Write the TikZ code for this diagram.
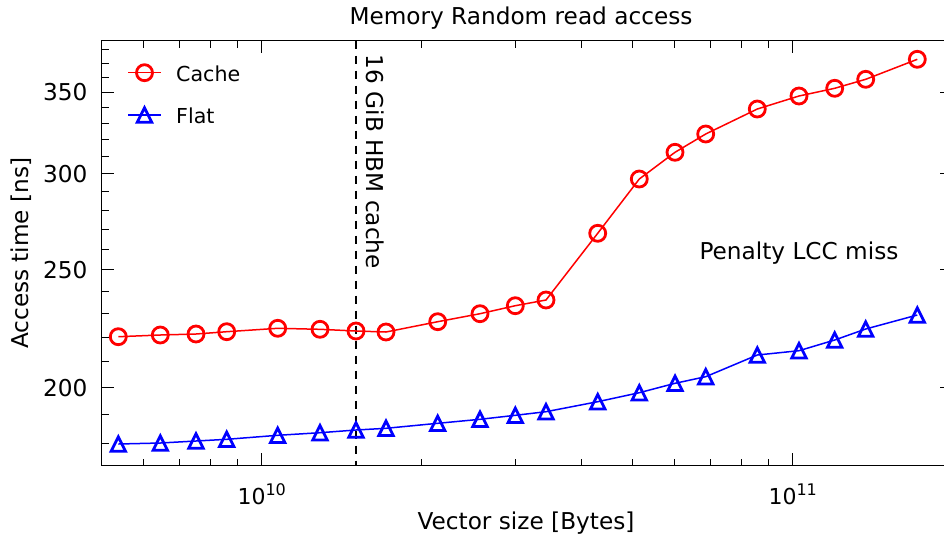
\documentclass[tikz,border=0pt]{standalone}
\usepackage{fontspec}
\setmainfont{DejaVu Sans}
\begin{document}
\begin{tikzpicture}[x=1pt,y=-1pt,
  axisline/.style={line width=1.2pt,black},
  tickline/.style={line width=1pt,black},
  lab/.style={inner sep=0pt,font=\fontsize{23.2}{28}\selectfont},
  leglab/.style={inner sep=0pt,font=\fontsize{20.6}{25}\selectfont},
  cacheline/.style={red,line width=1.5pt},
  flatline/.style={blue,line width=1.5pt},
  cmark/.style={circle,draw=red,line width=2.8pt,minimum size=16pt,inner sep=0pt},
  fmark/.style={draw=blue,line width=2.8pt,line join=miter},
  vline/.style={black,line width=1.4pt,dash pattern=on 8.5pt off 6.5pt}
]
\path[use as bounding box] (0,0) rectangle (944,542);
\clip (0,0) rectangle (944,542);
\fill[white] (0,0) rectangle (944,542);
\def\axL{101.7}\def\axR{952.6}\def\axT{40.7}\def\axB{465.7}
\coordinate (TL) at (\axL,\axT);
\coordinate (BR) at (\axR,\axB);

% y ticks
\foreach \v in {180,190,210,220,230,240,260,270,280,290,310,320,330,340,360,370,380} {
  \pgfmathsetmacro\yy{387.7-527.67*ln(\v/200)}
  \draw[tickline] (\axL,\yy) -- ++(7,0);
  \draw[tickline] (\axR,\yy) -- ++(-7,0);
}
\foreach \v in {200,250,300,350} {
  \pgfmathsetmacro\yy{387.7-527.67*ln(\v/200)}
  \draw[tickline] (\axL,\yy) -- ++(12.5,0);
  \draw[tickline] (\axR,\yy) -- ++(-12.5,0);
  \node[lab,anchor=east] (yl\v) at (87.5,\yy) {\v};
}
% x ticks
\foreach \v in {6,7,8,9,20,30,40,50,60,70,80,90} {
  \pgfmathsetmacro\xx{261.7+230.61*ln(\v/10)}
  \draw[tickline] (\xx,\axB) -- ++(0,-7);
  \draw[tickline] (\xx,\axT) -- ++(0,7);
}
\foreach \v/\e in {10/10,100/11} {
  \pgfmathsetmacro\xx{261.7+230.61*ln(\v/10)}
  \draw[tickline] (\xx,\axB) -- ++(0,-12.5);
  \draw[tickline] (\xx,\axT) -- ++(0,12.5);
  \node[inner sep=0pt,anchor=base,font=\fontsize{22}{26}\selectfont] (xl\e) at (\xx,504) {10\raisebox{9pt}{\fontsize{16}{18}\selectfont \e}};
}

% vertical dashed line
\coordinate (vtop) at (356,\axT);
\coordinate (vbot) at (356,\axB);
\draw[vline] (vtop) -- (vbot);
\node[lab,rotate=-90,anchor=south west] (hbm) at (365.5,54.5) {16 GiB HBM cache};

% data
\foreach \i/\x/\yc/\yf in {
  1/118.3/336.7/444, 2/160.3/335/443, 3/196/334/441, 4/226.7/331.7/439.3,
  5/277.7/328.3/435.3, 6/320/329.3/432.7, 7/356/331/430, 8/386/332/428.3,
  9/437.7/321.7/423.3, 10/480/313.7/419.3, 11/515.3/305.7/415.3, 12/546/300/411.7,
  13/597.7/233.3/401.7, 14/639.3/179/392.7, 15/675/152.3/383.3, 16/705.7/134/376.7,
  17/757.3/109/355, 18/799/96/350.7, 19/834.7/88.3/340, 20/865.7/79.3/329,
  21/917.3/59.3/315} {
  \coordinate (c\i) at (\x,\yc);
  \coordinate (f\i) at (\x,\yf);
}
\draw[cacheline] (c1) \foreach \i in {2,...,21} { -- (c\i) };
\draw[flatline] (f1) \foreach \i in {2,...,21} { -- (f\i) };
\foreach \i in {1,...,21} {
  \node[cmark] (cm\i) at (c\i) {};
  \draw[fmark] (f\i) ++(0,-7.2) -- ++(7.2,14.4) -- ++(-14.4,0) -- cycle;
}

% legend
\coordinate (la) at (128.3,72.7);
\coordinate (lb) at (160.7,72.7);
\draw[cacheline] (la) -- (lb);
\node[cmark] (lcm) at (144.5,72.7) {};
\node[leglab,anchor=west] (lcache) at (176,73.7) {Cache};
\coordinate (lc) at (128.3,115);
\coordinate (ld) at (160.7,115);
\draw[flatline] (lc) -- (ld);
\draw[fmark] (144.5,115) ++(0,-7.2) -- ++(7.2,14.4) -- ++(-14.4,0) -- cycle;
\node[leglab,anchor=west] (lflat) at (176,116.2) {Flat};

% annotations
\node[lab] (pen) at (799,253.3) {Penalty LCC miss};
\node[lab] (title) at (521,18) {Memory Random read access};
\node[lab] (xlab) at (526,523) {Vector size [Bytes]};
\node[lab,rotate=90] (ylab) at (21,253.2) {Access time [ns]};

% frame
\draw[axisline] (TL) rectangle (BR);
\end{tikzpicture}
\end{document}
